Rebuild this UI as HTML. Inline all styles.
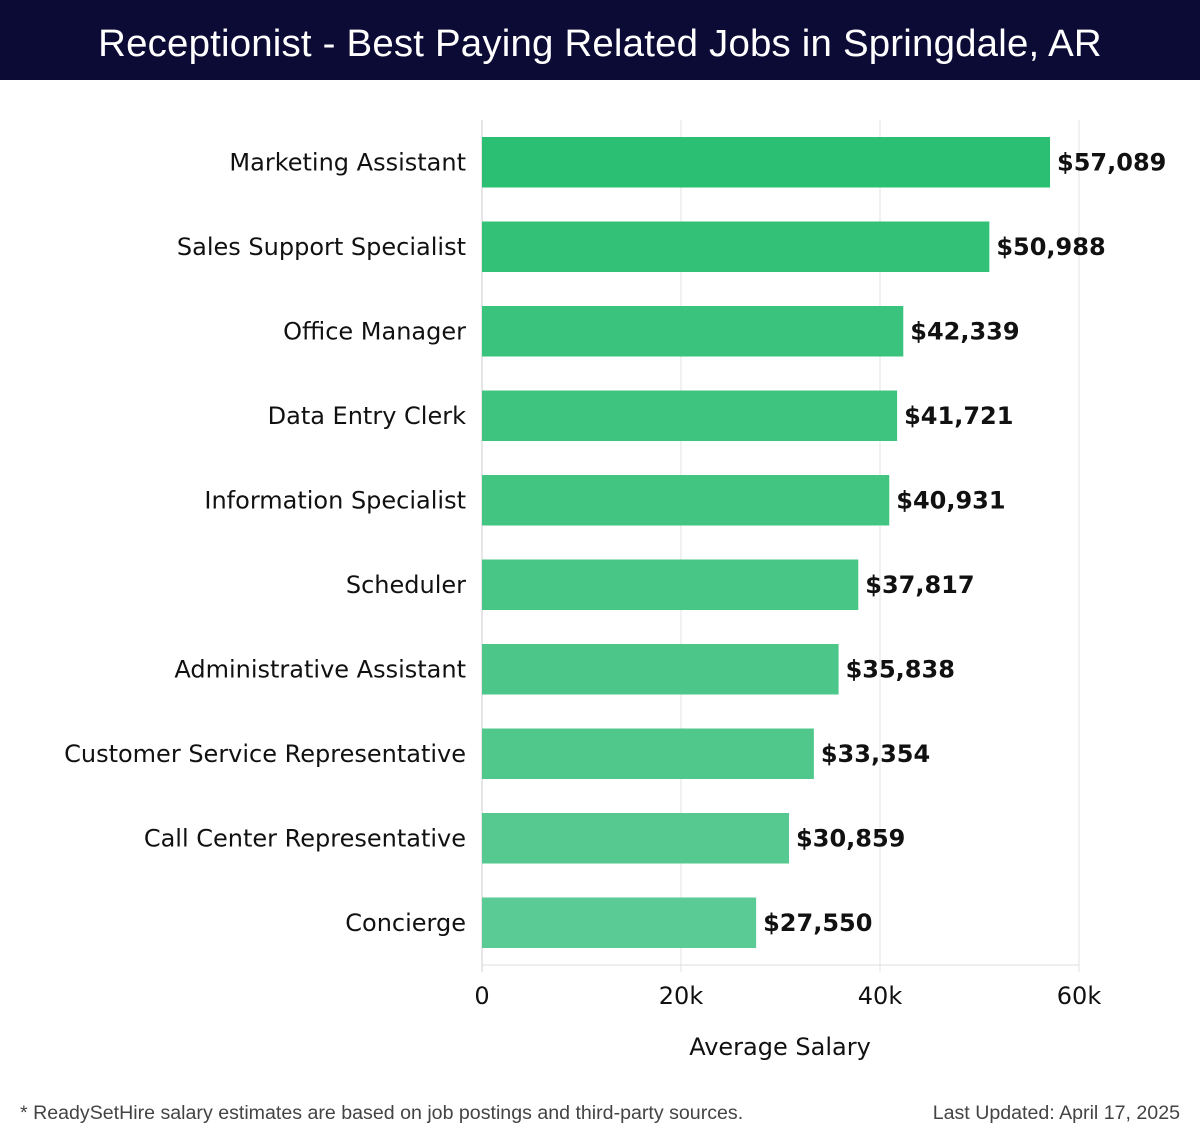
<!DOCTYPE html>
<html><head><meta charset="utf-8"><style>
body{margin:0;width:1200px;height:1140px;background:#fff;font-family:"DejaVu Sans","Liberation Sans",sans-serif;overflow:hidden}
#hdr{position:absolute;left:0;top:0;width:1200px;height:80px;background:#0c0b35;color:#fff;font-size:38.4px;font-weight:300;text-align:center;line-height:88px;font-family:"Liberation Sans",sans-serif;letter-spacing:0.2px}
svg{position:absolute;left:0;top:0}
</style></head><body>
<div id="hdr">Receptionist - Best Paying Related Jobs in Springdale, AR</div>
<svg id="chart" width="1200" height="1140"></svg>
<script>
const categories=["Marketing Assistant","Sales Support Specialist","Office Manager","Data Entry Clerk","Information Specialist","Scheduler","Administrative Assistant","Customer Service Representative","Call Center Representative","Concierge"];
const salaries=[57089,50988,42339,41721,40931,37817,35838,33354,30859,27550];
const ticks=[0,20000,40000,60000];
const tickLabels=["0","20k","40k","60k"];
const colors=["#2bbf73","#33c178","#3ac37c","#3fc47f","#43c582","#48c686","#4cc789","#50c88c","#55c98f","#5acb94"];
const NS="http://www.w3.org/2000/svg";
const svg=document.getElementById('chart');
const x0=482,x1=1079,plotTop=120,plotBot=965;
const xs=v=>x0+(v/60000)*(x1-x0);
const band=(plotBot-plotTop)/categories.length;
const ys=i=>plotTop+i*band;
function mk(t,a){const e=document.createElementNS(NS,t);for(const k in a)e.setAttribute(k,a[k]);svg.appendChild(e);return e;}
ticks.forEach((t,i)=>{
 const g=mk('line',{x1:xs(t),x2:xs(t),y1:plotTop,y2:plotBot+7,stroke:i==0?'#cccccc':'#e3e3e3','stroke-width':1});
 
 
 const l=mk('text',{x:xs(t),y:1004,'text-anchor':'middle','font-size':24,fill:'#111'});
 l.textContent=tickLabels[i];
 
 
});
mk('line',{x1:x0,x2:x1,y1:plotBot,y2:plotBot,stroke:'#dddddd'});
categories.forEach((c,i)=>{
 const y=ys(i)+17,h=band-34;
 const r=mk('rect',{x:x0,y:y,width:xs(salaries[i])-x0,height:h,fill:colors[i]});
 
 
 const lab=mk('text',{x:466,y:y+h/2+8,'text-anchor':'end','font-size':24,fill:'#111'});
 lab.textContent=c;
 
 
 const v=mk('text',{x:xs(salaries[i])+7,y:y+h/2+8,'font-size':24,'font-weight':'bold',fill:'#111'});
 v.textContent='$'+salaries[i].toLocaleString('en-US');
 
 
});
const at=mk('text',{x:780,y:1055,'text-anchor':'middle','font-size':24,fill:'#111'});
at.textContent='Average Salary';


const f1=mk('text',{x:20,y:1119,'font-size':19.6,fill:'#444','font-family':'Liberation Sans, sans-serif'});
f1.textContent='* ReadySetHire salary estimates are based on job postings and third-party sources.';


const f2=mk('text',{x:1180,y:1119,'text-anchor':'end','font-size':19.6,fill:'#444','font-family':'Liberation Sans, sans-serif'});
f2.textContent='Last Updated: April 17, 2025';


</script>
</body></html>
